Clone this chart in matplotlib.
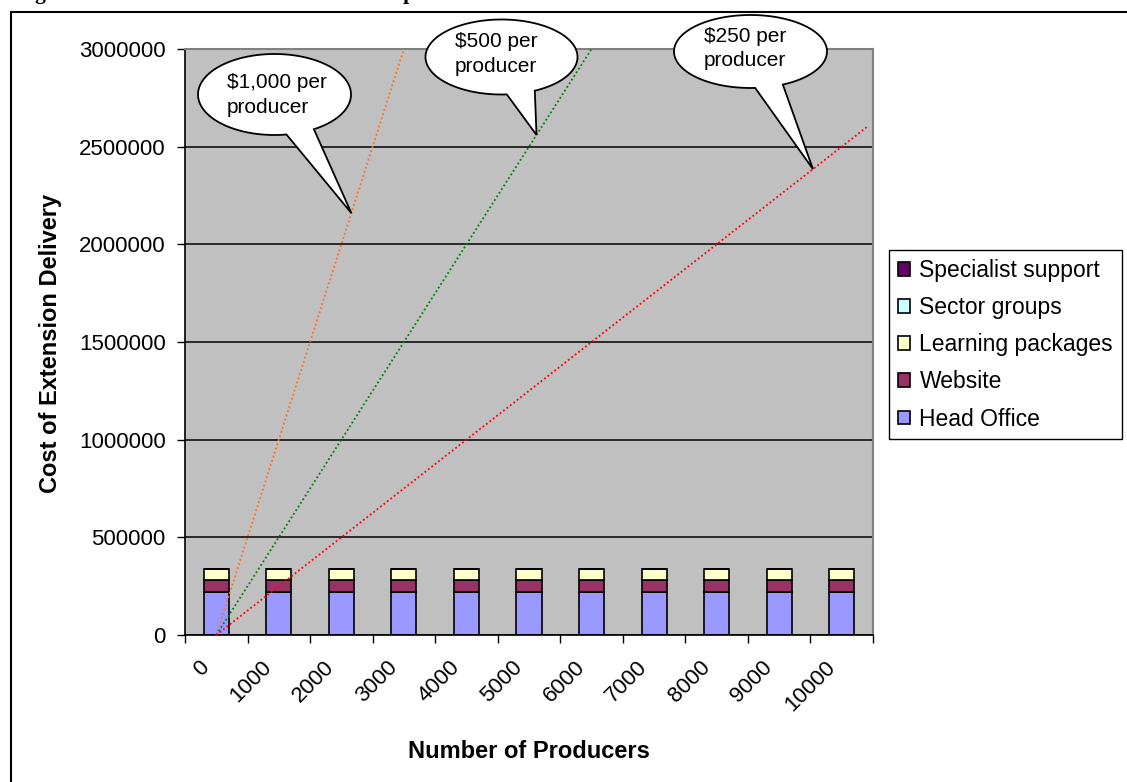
import numpy as np
import matplotlib
matplotlib.use("Agg")
import matplotlib.pyplot as plt
from matplotlib.patches import Polygon, Rectangle
from matplotlib.transforms import IdentityTransform, ScaledTranslation

# ---- data -------------------------------------------------------------
producers = [0, 1000, 2000, 3000, 4000, 5000, 6000, 7000, 8000, 9000, 10000]
tick_labels = [str(p) for p in producers]

components = ["Head Office", "Website", "Learning packages",
              "Sector groups", "Specialist support"]
head_office = [220000] * 11
website = [60000] * 11
learning_packages = [60000] * 11
sector_groups = [0] * 11
specialist_support = [0] * 11

# cost per producer reference lines
rates = [1000, 500, 250]
rate_labels = ["$1,000 per\nproducer", "$500 per\nproducer", "$250 per\nproducer"]
trend_range = [0, 10400]
callout_at = [2160, 5120, 9540]   # producer counts the callouts point to

# ---- style ------------------------------------------------------------
component_colors = ["#9999FF", "#993366", "#FFFFCC", "#CCFFFF", "#660066"]
rate_colors = ["#FF7020", "#008000", "#FF0000"]
SANS = "Liberation Sans"

W, H = 1127, 782
fig = plt.figure(figsize=(W / 100, H / 100), dpi=100)
fig.patch.set_facecolor("white")

# page caption sitting above the chart frame
fig.text(16 / W, 1 + 1 / H,
         "Figure 5.  Estimated cost of extension and producer numbers",
         family="Liberation Serif", fontweight="bold", fontsize=15.5,
         va="baseline", ha="left")

# chart frame
fig.add_artist(Rectangle((11 / W, -0.2), 2.0, 1.2 - 12 / H,
                         transform=fig.transFigure, fill=False,
                         edgecolor="black", linewidth=1.5, zorder=1))

ax = fig.add_axes([185 / W, (H - 635) / H, (873 - 185) / W, (635 - 49) / H])
ax.set_facecolor("#C0C0C0")
ax.set_xlim(-500, 10500)
ax.set_ylim(0, 3000000)

# stacked bars
series = [head_office, website, learning_packages, sector_groups, specialist_support]
bottom = np.zeros(len(producers))
handles = []
for name, vals, col in zip(components, series, component_colors):
    vals = np.asarray(vals, dtype=float)
    b = ax.bar(producers, vals, width=400, bottom=bottom, color=col,
               edgecolor="black", linewidth=1.2, zorder=2, label=name)
    bottom += vals
    handles.append(b)

# per-producer cost lines
xs = np.asarray(trend_range, dtype=float)
for r, c in zip(rates, rate_colors):
    ax.plot(xs, r * xs, linestyle=(0, (1, 1.4)), color=c, linewidth=1.3, zorder=3)

# y axis
yt = np.arange(0, 3000001, 500000)
ax.set_yticks(yt)
ax.set_yticklabels([str(int(v)) for v in yt], family=SANS, fontsize=16)
ax.yaxis.grid(True, color="black", linewidth=1.1)
ax.set_axisbelow(True)
ax.tick_params(axis="y", length=6, width=1, direction="out", pad=8)

# x axis: ticks on category boundaries, labels at category centres
ax.set_xticks(np.arange(-500, 10501, 1000))
ax.set_xticklabels([])
ax.set_xticks(producers, minor=True)
ax.set_xticklabels(tick_labels, minor=True, rotation=45, ha="right",
                   va="center", rotation_mode="anchor", family=SANS,
                   fontsize=16)
ax.tick_params(axis="x", which="major", length=6, width=1, direction="out")
ax.tick_params(axis="x", which="minor", length=0, pad=21)
shift = ScaledTranslation(-0.10, 0, fig.dpi_scale_trans)
for lbl in ax.get_xticklabels(minor=True):
    lbl.set_transform(lbl.get_transform() + shift)

for s in ("top", "right"):
    ax.spines[s].set_color("#808080")
    ax.spines[s].set_linewidth(1.5)
for s in ("left", "bottom"):
    ax.spines[s].set_color("black")
    ax.spines[s].set_linewidth(1.2)

# axis titles
fig.text(51 / W, 1 - 343 / H, "Cost of Extension Delivery", rotation=90,
         family=SANS, fontweight="bold", fontsize=17, ha="center", va="center")
fig.text(529 / W, 1 - 751 / H, "Number of Producers",
         family=SANS, fontweight="bold", fontsize=17, ha="center", va="center")

# legend
leg = fig.legend(handles[::-1], components[::-1], loc="upper left",
                 bbox_to_anchor=(889 / W, 1 - 250 / H), frameon=True,
                 fancybox=False, edgecolor="black", framealpha=1,
                 prop=dict(family=SANS, size=16.5), handlelength=0.55,
                 handleheight=0.55, handletextpad=0.4, labelspacing=0.62,
                 borderpad=0.38, borderaxespad=0)
leg.get_frame().set_linewidth(1.0)

# speech-bubble callouts (pixel geometry, tip anchored on each line)
bubbles = [
    dict(center=(274.5, 94.5), semi=(76.5, 40.5), base=(81, 59), text_at=(227, 95)),
    dict(center=(501.5, 57.0), semi=(76.0, 37.5), base=(86, 64), text_at=(455, 54)),
    dict(center=(750.5, 51.5), semi=(76.5, 36.5), base=(86.5, 65), text_at=(704, 48.5)),
]
for bub, r, n, label in zip(bubbles, rates, callout_at, rate_labels):
    cx, cy = bub["center"]
    a, b = bub["semi"]
    t0, t1 = bub["base"]
    t = np.radians(np.linspace(t0, t1 + 360, 240))
    px = cx + a * np.cos(t)
    py = H - (cy + b * np.sin(t))
    tip = ax.transData.transform((n, r * n))
    pts = np.vstack([np.column_stack([px, py]), tip])
    fig.add_artist(Polygon(pts, closed=True, transform=IdentityTransform(),
                           facecolor="white", edgecolor="black",
                           linewidth=1.3, zorder=10))
    tx, ty = bub["text_at"]
    fig.text(tx / W, 1 - ty / H, label, family=SANS, fontsize=15,
             ha="left", va="center", linespacing=1.4, zorder=11)

fig.savefig("out.png", dpi=100)
